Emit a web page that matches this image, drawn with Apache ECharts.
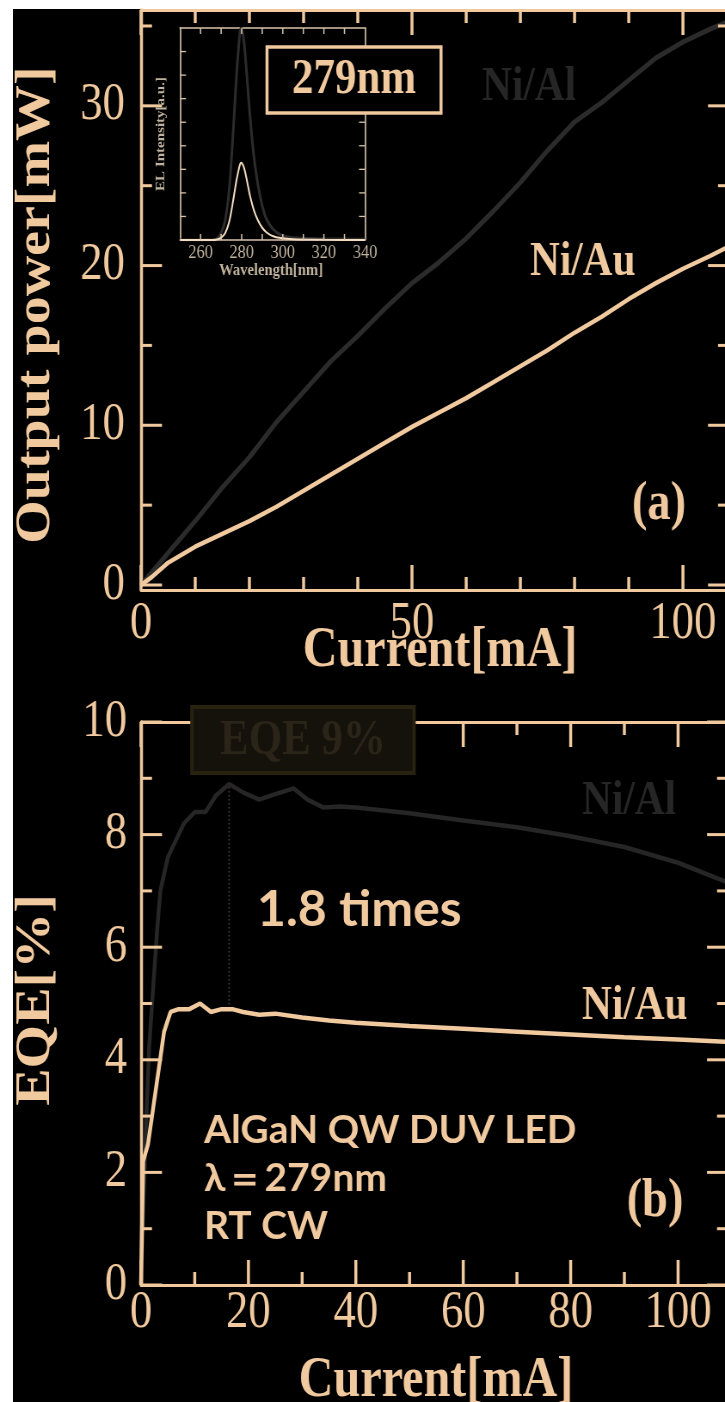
<!DOCTYPE html>
<html>
<head>
<meta charset="utf-8">
<script src="https://cdn.jsdelivr.net/npm/echarts@6/dist/echarts.min.js"></script>
<style>
  html, body { margin: 0; padding: 0; background: #fff; overflow: hidden; width: 725px; height: 1402px; }
  #panel { position: absolute; left: 13px; top: 9px; width: 712px; height: 1393px; background: #000; }
  /* the figure is laid out wide and squeezed horizontally, like the slide it comes from */
  #chart { position: absolute; left: 0; top: 0; width: 843px; height: 1402px; transform: scaleX(0.86); transform-origin: 0 0; }
</style>
</head>
<body>
<div id="panel"></div>
<div id="chart"></div>
<script>
const S = 0.86;              // horizontal squeeze applied to #chart
const sx = v => v / S;       // screen x -> layout x

const TAN = '#f0c99e';
const NIAL_GRAY = '#2b2b2b';
const SERIF = '"Liberation Serif", "Times New Roman", serif';
const SANS = 'Lato, "Noto Sans", sans-serif';

// ---- (a) output power vs. current ----
const powerCurrent_mA = [0, 2, 5, 10, 15, 20, 25, 30, 35, 40, 45, 50, 55, 60, 65, 70, 75, 80, 85, 90, 95, 100, 105, 108.5];
const powerNiAl_mW    = [0, 0.8, 2.0, 4.0, 6.1, 8.0, 10.2, 12.1, 14.0, 15.6, 17.3, 18.9, 20.2, 21.7, 23.4, 25.2, 27.2, 29.0, 30.2, 31.6, 33.0, 34.0, 34.8, 35.3];
const powerNiAu_mW    = [0, 0.5, 1.4, 2.4, 3.2, 4.0, 4.9, 5.9, 6.9, 7.9, 8.9, 9.9, 10.8, 11.7, 12.7, 13.7, 14.7, 15.8, 16.8, 17.9, 18.9, 19.8, 20.6, 21.2];
const powerTicksMajor_mA = [0, 50, 100];
const powerTicksMinor_mA = [10, 20, 30, 40, 60, 70, 80, 90];
const powerTicksMajor_mW = [0, 10, 20, 30];
const powerTicksMinor_mW = [5, 15, 25, 35];

// ---- inset: EL spectra ----
const spectrumWavelength_nm = [250, 266, 268, 270, 272, 274, 276, 277.5, 279, 279.7, 281, 282.5, 284, 286, 288, 290, 292, 295, 299, 305, 320, 340];
const spectrumNiAl = [0, 0, 0.06, 0.3, 0.85, 2.2, 4.8, 7.0, 8.7, 9.0, 8.5, 7.0, 5.3, 3.5, 2.3, 1.45, 0.9, 0.48, 0.22, 0.1, 0.05, 0.03];
const spectrumNiAu = [0, 0, 0.02, 0.1, 0.3, 0.8, 1.75, 2.55, 3.15, 3.28, 3.1, 2.55, 1.9, 1.25, 0.82, 0.52, 0.33, 0.17, 0.08, 0.03, 0.01, 0];
const spectrumTicks_nm = [260, 270, 280, 290, 300, 310, 320, 330];
const spectrumTicks_au = [1, 2, 3, 4, 5, 6, 7, 8];

// ---- (b) EQE vs. current ----
const eqeCurrentNiAl_mA = [0, 0.5, 1, 1.5, 2.2, 3, 3.6, 5, 6.5, 8, 10, 12, 14, 16.4, 19, 22, 25, 28.4, 31, 34, 37, 40, 50, 60, 70, 80, 90, 100, 109.3];
const eqeNiAl_pct       = [0, 1.5, 3.0, 4.2, 5.2, 6.3, 7.0, 7.6, 7.9, 8.2, 8.4, 8.4, 8.7, 8.9, 8.75, 8.62, 8.72, 8.82, 8.62, 8.48, 8.5, 8.48, 8.38, 8.25, 8.13, 7.97, 7.78, 7.5, 7.15];
const eqeCurrentNiAu_mA = [0, 0.4, 1.3, 4.3, 5.5, 7, 9, 11, 13, 15, 17, 19, 22, 25, 30, 35, 40, 50, 60, 70, 80, 90, 100, 109.3];
const eqeNiAu_pct       = [0, 2.2, 2.5, 4.5, 4.85, 4.9, 4.9, 5.0, 4.85, 4.9, 4.9, 4.85, 4.8, 4.82, 4.75, 4.7, 4.66, 4.6, 4.55, 4.5, 4.45, 4.4, 4.36, 4.32];
const eqeTicksMajor_mA = [0, 20, 40, 60, 80, 100];
const eqeTicksMinor_mA = [10, 30, 50, 70, 90];
const eqeTicksMajor_pct = [0, 2, 4, 6, 8, 10];
const eqeTicksMinor_pct = [1, 3, 5, 7, 9];
// vertical marker between the two EQE peaks
const peakRatioCurrent_mA = [16.4, 16.4];
const peakRatioEqe_pct    = [8.85, 4.9];

const infoLines = ['AlGaN QW DUV LED', 'λ＝279nm', 'RT CW'];

// ---------------------------------------------------------------
const grids = [], xAxes = [], yAxes = [];

// one axis per side: frame line + labels; tick marks are added as graphics
function makeAxes(list, dim, gi, o) {
  const horiz = dim === 'x';
  const sides = horiz ? ['bottom', 'top'] : ['left', 'right'];
  const lineW = horiz ? o.lineWidth : o.lineWidth / S;
  sides.forEach((side, k) => {
    list.push({
      type: 'value', gridIndex: gi, position: side,
      min: o.min, max: o.max, interval: o.interval,
      offset: k === 0 ? (o.offset || 0) : 0,
      axisLine: { show: true, onZero: false, lineStyle: { color: o.color, width: lineW } },
      axisTick: { show: false },
      minorTick: { show: false },
      axisLabel: (k === 0 && o.label) ? Object.assign({ show: true, showMaxLabel: o.showMax }, o.label) : { show: false },
      splitLine: { show: false },
      splitArea: { show: false }
    });
  });
}

function addFrame(grid, xo, yo) {
  const gi = grids.length;
  // the frames run past the right edge of the page, so no fitting into the container
  grids.push(Object.assign({ outerBoundsMode: 'none', containLabel: false }, grid));
  const xi = xAxes.length, yi = yAxes.length;
  makeAxes(xAxes, 'x', gi, xo);
  makeAxes(yAxes, 'y', gi, yo);
  return { xi, yi, xRange: [xo.min, xo.max], yRange: [yo.min, yo.max], bottomOffset: xo.offset || 0 };
}

const tickFont = { fontFamily: SERIF, fontSize: 52, color: TAN };

// (a)
const A = addFrame(
  { left: sx(141), top: 10, width: sx(588), height: 575 },
  { min: 0, max: 108.5, interval: 50, offset: 5, color: TAN, lineWidth: 3, showMax: false,
    label: Object.assign({ margin: 8 }, tickFont) },
  { min: 0, max: 36, interval: 10, color: TAN, lineWidth: 3, showMax: false,
    label: Object.assign({ margin: sx(16) }, tickFont) }
);

// (b)
const B = addFrame(
  { left: sx(141), top: 722, width: sx(587), height: 563 },
  { min: 0, max: 109.3, interval: 20, color: TAN, lineWidth: 3, showMax: false,
    label: Object.assign({ margin: 2 }, tickFont) },
  { min: 0, max: 10, interval: 2, color: TAN, lineWidth: 3, showMax: true,
    label: Object.assign({ margin: sx(14) }, tickFont) }
);

// inset spectrum
const INSET_INK = '#d6c4aa';
const C = addFrame(
  { left: sx(180), top: 28, width: sx(185), height: 212 },
  { min: 250, max: 340, interval: 10, color: INSET_INK, lineWidth: 1.6, showMax: true,
    label: { fontFamily: SERIF, fontSize: 19, color: '#c0b39d', margin: 4,
             formatter: v => (v % 20 === 0 ? String(v) : '') } },
  { min: 0, max: 9, interval: 1, color: INSET_INK, lineWidth: 1.4 }
);

function line(axes, xs, ys, color, width, extra) {
  return Object.assign({
    type: 'line', xAxisIndex: axes.xi, yAxisIndex: axes.yi,
    data: xs.map((x, i) => [x, ys[i]]),
    symbol: 'none', showSymbol: false, silent: true, clip: true,
    lineStyle: { color, width }, itemStyle: { color }
  }, extra || {});
}

const series = [
  line(A, powerCurrent_mA, powerNiAl_mW, NIAL_GRAY, 5),
  line(A, powerCurrent_mA, powerNiAu_mW, TAN, 4.5),
  line(C, spectrumWavelength_nm, spectrumNiAl, '#2c2c2c', 3, { smooth: 0.3 }),
  line(C, spectrumWavelength_nm, spectrumNiAu, '#f3dcc0', 2, { smooth: 0.3 }),
  line(B, peakRatioCurrent_mA, peakRatioEqe_pct, '#3a2c2c', 2, { lineStyle: { color: '#3a2c2c', width: 2, type: 'dotted' } }),
  line(B, eqeCurrentNiAl_mA, eqeNiAl_pct, '#262626', 4.5),
  line(B, eqeCurrentNiAu_mA, eqeNiAu_pct, TAN, 4.5)
];

function text(str, x, y, o) {
  const align = o.align || 'left';
  return {
    type: 'text', x: sx(x), y, z: 30, silent: true,
    rotation: o.rotation || 0, scaleX: o.scaleX || 1,
    style: { text: str, fill: o.color || TAN, font: o.font,
             textAlign: align, textVerticalAlign: 'middle', align: align, verticalAlign: 'middle' }
  };
}
const serifBold = px => 'bold ' + px + 'px ' + SERIF;
const sansBold = px => 'bold ' + px + 'px ' + SANS;

const graphics = [
  // axis titles
  text('Output power[mW]', 37, 305, { font: serifBold(56), align: 'center', rotation: Math.PI / 2 }),
  text('Current[mA]', 440, 652, { font: serifBold(56), align: 'center' }),
  text('EQE[%]', 37, 1000, { font: serifBold(56), align: 'center', rotation: Math.PI / 2 }),
  text('Current[mA]', 436, 1382, { font: serifBold(56), align: 'center' }),
  // panel tags
  text('(a)', 659, 505, { font: serifBold(54), align: 'center' }),
  text('(b)', 655, 1202, { font: serifBold(54), align: 'center' }),
  // curve names
  text('Ni/Al', 482, 88, { font: serifBold(48), color: '#262626' }),
  text('Ni/Au', 530, 263, { font: serifBold(48) }),
  text('Ni/Al', 582, 802, { font: serifBold(48), color: '#262626' }),
  text('Ni/Au', 582, 1007, { font: serifBold(48) }),
  // annotations
  text('1.8 times', 257, 910, { font: sansBold(50), scaleX: 1 / S }),
  // inset axis names
  text('Wavelength[nm]', 271, 271, { font: serifBold(17), align: 'center', color: '#c0b39d' }),
  text('EL Intensity[a.u.]', 161, 134, { font: serifBold(15), align: 'center', color: '#c0b39d', rotation: Math.PI / 2 })
];
infoLines.forEach((s, i) => graphics.push(text(s, 204, 1130 + i * 48, { font: sansBold(39), scaleX: 1 / S })));

const chart = echarts.init(document.getElementById('chart'), null, { renderer: 'canvas' });
chart.setOption({
  animation: false,
  backgroundColor: 'transparent',
  grid: grids,
  xAxis: xAxes,
  yAxis: yAxes,
  series: series
});

// inward tick marks on all four sides of a frame, placed through the axes' scales
function frameTicks(frame, xTicks, yTicks, color, width) {
  const finder = { xAxisIndex: frame.xi, yAxisIndex: frame.yi };
  const px = (x, y) => chart.convertToPixel(finder, [x, y]);
  const els = [];
  const seg = (x1, y1, x2, y2, w) => els.push({
    type: 'line', z: 20, silent: true,
    shape: { x1, y1, x2, y2 }, style: { stroke: color, lineWidth: w }
  });
  xTicks.forEach(([v, len]) => {
    const b = px(v, frame.yRange[0]), t = px(v, frame.yRange[1]);
    const yb = b[1] + frame.bottomOffset;
    seg(b[0], yb, b[0], yb - len, width / S);
    seg(t[0], t[1], t[0], t[1] + len, width / S);
  });
  yTicks.forEach(([v, len]) => {
    const l = px(frame.xRange[0], v), r = px(frame.xRange[1], v);
    seg(l[0], l[1], l[0] + len / S, l[1], width);
    seg(r[0], r[1], r[0] - len / S, r[1], width);
  });
  return els;
}
const withLen = (vals, len) => vals.map(v => [v, len]);

const tickEls = [].concat(
  frameTicks(A,
    withLen(powerTicksMajor_mA, 25).concat(withLen(powerTicksMinor_mA, 13)),
    withLen(powerTicksMajor_mW, 21).concat(withLen(powerTicksMinor_mW, 11)), TAN, 3),
  frameTicks(B,
    withLen(eqeTicksMajor_mA, 25).concat(withLen(eqeTicksMinor_mA, 13)),
    withLen(eqeTicksMajor_pct, 21).concat(withLen(eqeTicksMinor_pct, 11)), TAN, 3),
  frameTicks(C, withLen(spectrumTicks_nm, 6), withLen(spectrumTicks_au, 6), INSET_INK, 1.3)
);

// boxes sit on top of the frames and ticks
const boxes = [
  { type: 'rect', z: 25, silent: true, shape: { x: sx(267), y: 47, width: sx(174), height: 66 },
    style: { fill: '#000', stroke: TAN, lineWidth: 3.5 } },
  text('279nm', 354, 80, { font: serifBold(50), align: 'center' }),
  { type: 'rect', z: 25, silent: true, shape: { x: sx(192), y: 707, width: sx(222), height: 66 },
    style: { fill: '#15110b', stroke: '#28220f', lineWidth: 4 } },
  text('EQE 9%', 303, 741, { font: serifBold(50), align: 'center', color: '#2a2419' })
];

chart.setOption({ graphic: { elements: graphics.concat(tickEls, boxes) } });
</script>
</body>
</html>
